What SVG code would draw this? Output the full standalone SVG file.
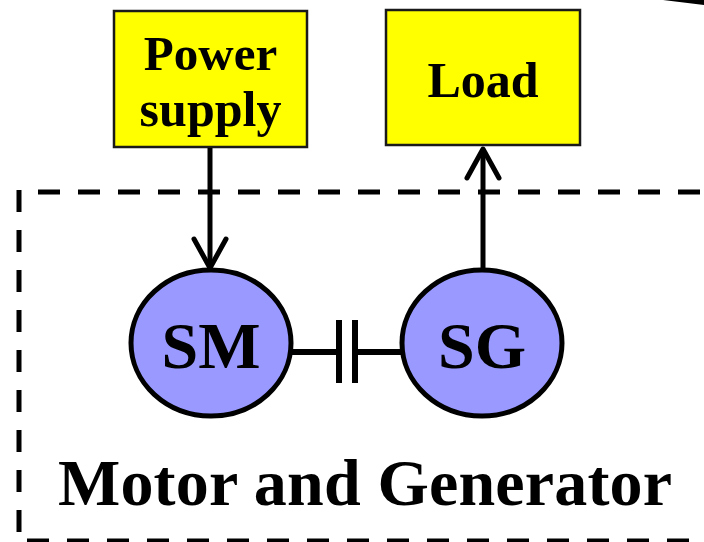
<svg xmlns="http://www.w3.org/2000/svg" width="704" height="542" viewBox="0 0 704 542">
<style>
.box{fill:#ffff00;stroke:#1a1a1a;stroke-width:2.5}
.mach{fill:#9999ff;stroke:#000;stroke-width:5}
.t{font-family:"Liberation Serif","Times New Roman",serif;font-weight:bold;fill:#000;text-anchor:middle}
.dash{stroke:#000;stroke-width:5;stroke-dasharray:22 18;fill:none}
.ln{stroke:#000;stroke-width:5;fill:none;stroke-linecap:round;stroke-linejoin:round}
</style>
<rect width="704" height="542" fill="#fff"/>
<g id="enclosure">
<line class="dash" x1="19" y1="190" x2="19" y2="542"/>
<line class="dash" x1="38" y1="192" x2="704" y2="192"/>
<line class="dash" x1="27" y1="541" x2="704" y2="541"/>
<text class="t" x="365" y="505" font-size="66" textLength="614" lengthAdjust="spacing">Motor and Generator</text>
</g>
<g id="power-supply">
<rect class="box" x="114" y="11" width="193" height="136"/>
<text class="t" x="210.5" y="70" font-size="49">Power</text>
<text class="t" x="210.5" y="126" font-size="50">supply</text>
</g>
<g id="load">
<rect class="box" x="386" y="10" width="194" height="135"/>
<text class="t" x="483" y="97" font-size="50">Load</text>
</g>
<g id="connectors">
<line class="ln" x1="210" y1="148" x2="210" y2="268" style="stroke-linecap:butt"/>
<polyline class="ln" points="194,239 210,268 226,239"/>
<line class="ln" x1="483" y1="270" x2="483" y2="150" style="stroke-linecap:butt"/>
<polyline class="ln" points="467,178 483,149 499,178"/>
<line x1="290" y1="352" x2="339" y2="352" stroke="#000" stroke-width="6"/>
<line x1="339" y1="320" x2="339" y2="383" stroke="#000" stroke-width="6"/>
<line x1="355" y1="320" x2="355" y2="383" stroke="#000" stroke-width="6"/>
<line x1="355" y1="352" x2="402" y2="352" stroke="#000" stroke-width="6"/>
<path d="M663 0 L704 0 L704 5 Z" fill="#000"/>
</g>
<g id="SM">
<ellipse class="mach" cx="211" cy="343" rx="80" ry="73"/>
<text class="t" x="211" y="368" font-size="66">SM</text>
</g>
<g id="SG">
<ellipse class="mach" cx="482" cy="343" rx="80" ry="73"/>
<text class="t" x="482" y="368" font-size="66">SG</text>
</g>
</svg>
